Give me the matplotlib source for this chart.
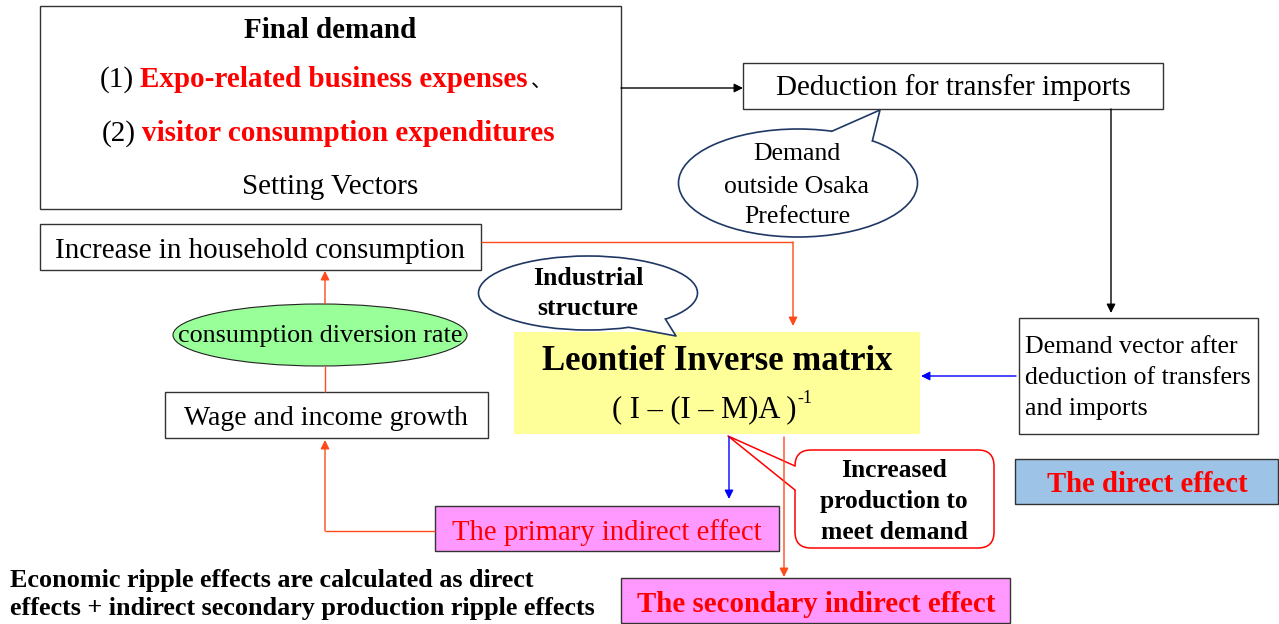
import matplotlib
matplotlib.use("Agg")
import numpy as np
import matplotlib.pyplot as plt
from matplotlib.patches import Rectangle, Ellipse, FancyBboxPatch, Polygon

SERIF = ['Liberation Serif', 'Noto Sans CJK JP', 'DejaVu Serif']

# ---- content ----
final_demand_title = "Final demand"
final_demand_items = [("(1)", "Expo-related business expenses", "、"),
                      ("(2)", "visitor consumption expenditures", "")]
final_demand_footer = "Setting Vectors"
deduction_label = "Deduction for transfer imports"
outside_label = ["Demand", "outside Osaka", "Prefecture"]
household_label = "Increase in household consumption"
industrial_label = ["Industrial", "structure"]
diversion_label = "consumption diversion rate"
wage_label = "Wage and income growth"
leontief_title = "Leontief Inverse matrix"
leontief_formula = "( I – (I – M)A )"
leontief_exp = "-1"
demand_vector_label = ["Demand vector after", "deduction of transfers", "and imports"]
production_label = ["Increased", "production to", "meet demand"]
direct_label = "The direct effect"
primary_label = "The primary indirect effect"
secondary_label = "The secondary indirect effect"
note_lines = ["Economic ripple effects are calculated as direct",
              "effects + indirect secondary production ripple effects"]

RED = '#FF0000'
ORANGE = '#FF4A1A'
BLUE = '#0000FF'
NAVY = '#1F3864'
EDGE = '#333333'

fig = plt.figure(figsize=(12.79, 6.24), dpi=100)
ax = fig.add_axes([0, 0, 1, 1])
ax.set_xlim(0, 1279)
ax.set_ylim(624, 0)
ax.axis('off')
renderer = fig.canvas.get_renderer()


def box(x0, y0, x1, y1, fc='white', ec=EDGE, lw=1.0, z=2):
    ax.add_patch(Rectangle((x0, y0), x1 - x0, y1 - y0, fc=fc, ec=ec, lw=lw, zorder=z))


def txt(x, y, s, size, color='black', weight='normal', ha='center', va='baseline', z=8):
    return ax.text(x, y, s, fontsize=size, color=color, fontweight=weight, ha=ha, va=va,
                   family=SERIF, zorder=z)


def width_of(t):
    bb = t.get_window_extent(renderer)
    return bb.width


def arrow(x0, y0, x1, y1, color, lw=1.0, ms=13, z=7):
    ax.annotate('', xy=(x1, y1), xytext=(x0, y0),
                arrowprops=dict(arrowstyle='-|>', color=color, lw=lw, shrinkA=0, shrinkB=0,
                                mutation_scale=ms), zorder=z)


def line(xs, ys, color, lw=1.0, z=7):
    ax.plot(xs, ys, color=color, lw=lw, zorder=z, solid_capstyle='butt')


def callout_ellipse(cx, cy, w, h, a1, a2, tip, ec=NAVY, fc='white', lw=1.2):
    ax.add_patch(Ellipse((cx, cy), w, h, fc=fc, ec=ec, lw=lw, zorder=3))
    a, b = w / 2, h / 2
    t1, t2 = np.radians(a1), np.radians(a2)
    p1 = (cx + a * np.cos(t1), cy + b * np.sin(t1))
    p2 = (cx + a * np.cos(t2), cy + b * np.sin(t2))
    i1 = (cx + 0.9 * a * np.cos(t1), cy + 0.9 * b * np.sin(t1))
    i2 = (cx + 0.9 * a * np.cos(t2), cy + 0.9 * b * np.sin(t2))
    ax.add_patch(Polygon([i1, p1, tip, p2, i2], closed=True, fc=fc, ec='none', zorder=4))
    ax.plot([p1[0], tip[0], p2[0]], [p1[1], tip[1], p2[1]], color=ec, lw=lw, zorder=5)


# ---- Final demand box ----
box(40, 6, 621, 209)
txt(330, 38, final_demand_title, 21, weight='bold')
item_pos = [(100, 87), (102, 141)]
for (num, red, tail), (x, y) in zip(final_demand_items, item_pos):
    t1 = txt(x, y, num, 21, ha='left')
    x2 = x + width_of(t1) + 6
    t2 = txt(x2, y, red, 21, color=RED, weight='bold', ha='left')
    if tail:
        txt(x2 + width_of(t2) + 3, y, tail, 15, ha='left')
txt(330, 194, final_demand_footer, 21)

# arrow to deduction box
arrow(621, 88, 743, 88, 'black')

# ---- Deduction box ----
box(743, 63, 1163, 109)
txt(953, 95, deduction_label, 21)

# callout: demand outside Osaka
callout_ellipse(798, 183, 239, 108, -73.5, -51.5, (880, 110))
for s, y in zip(outside_label, [160, 193, 223]):
    txt(797, y, s, 18.5)

# line down to demand vector box
arrow(1111, 109, 1111, 313, 'black')

# ---- Demand vector box ----
box(1019, 318, 1258, 434)
for s, y in zip(demand_vector_label, [353, 384, 415]):
    txt(1025, y, s, 18.6, ha='left')

# blue arrow to Leontief
arrow(1016, 376, 921, 376, BLUE)

# ---- Household consumption box ----
box(40, 224, 481, 270)
txt(260, 258, household_label, 20.9)

# orange line household -> Leontief
line([481, 793], [242, 242], ORANGE)
arrow(793, 242, 793, 326, ORANGE)

# ---- Industrial structure callout ----
callout_ellipse(588, 293, 219, 74, 68, 45, (676, 336))
txt(588, 285, industrial_label[0], 18.5, weight='bold')
txt(588, 315, industrial_label[1], 18.5, weight='bold')

# ---- Leontief box ----
box(514, 332, 920, 434, fc='#FFFF99', ec='none', z=2)
txt(717, 370, leontief_title, 25, weight='bold')
tf = txt(612, 417, leontief_formula, 22, ha='left')
txt(612 + width_of(tf) + 1, 403, leontief_exp, 13, ha='left')

# ---- green ellipse ----
ax.add_patch(Ellipse((320, 335), 294, 62, fc='#99FF99', ec='#222222', lw=0.8, zorder=3))
txt(320, 342, diversion_label, 18.8)

# red arrows around ellipse
arrow(325, 304, 325, 271, ORANGE)
line([325, 325], [366, 392], ORANGE)

# ---- Wage box ----
box(165, 392, 488, 438)
txt(326, 425, wage_label, 20)

# ---- Primary indirect effect ----
box(435, 506, 779, 551, fc='#FF99FF')
txt(607, 540, primary_label, 20.7, color=RED)
line([435, 325], [531, 531], ORANGE)
arrow(325, 531, 325, 440, ORANGE)

# blue arrow down from Leontief
arrow(729, 437, 729, 499, BLUE)

# ---- Increased production callout ----
ax.add_patch(FancyBboxPatch((795, 450), 199, 98, boxstyle='round,pad=0,rounding_size=16',
                            fc='white', ec=RED, lw=1.1, zorder=3))
ax.add_patch(Polygon([(792, 466), (728, 436), (792, 490), (800, 490), (800, 466)], closed=True,
                     fc='white', ec='none', zorder=4))
ax.plot([795, 728, 795], [466, 436, 490], color=RED, lw=1.1, zorder=5)
for s, y in zip(production_label, [477, 508, 539]):
    txt(894, y, s, 18.4, weight='bold')

# orange line to secondary effect
arrow(784, 437, 784, 577, ORANGE, z=9)

# ---- Secondary indirect effect ----
box(621, 578, 1010, 623, fc='#FF99FF')
txt(816, 612, secondary_label, 20.8, color=RED, weight='bold')

# ---- Direct effect ----
box(1015, 459, 1278, 504, fc='#9DC3E6')
txt(1147, 492, direct_label, 20.7, color=RED, weight='bold')

# ---- Note ----
txt(10, 587, note_lines[0], 18.8, weight='bold', ha='left')
txt(10, 615, note_lines[1], 18.8, weight='bold', ha='left')

fig.savefig('out.png', dpi=100)
